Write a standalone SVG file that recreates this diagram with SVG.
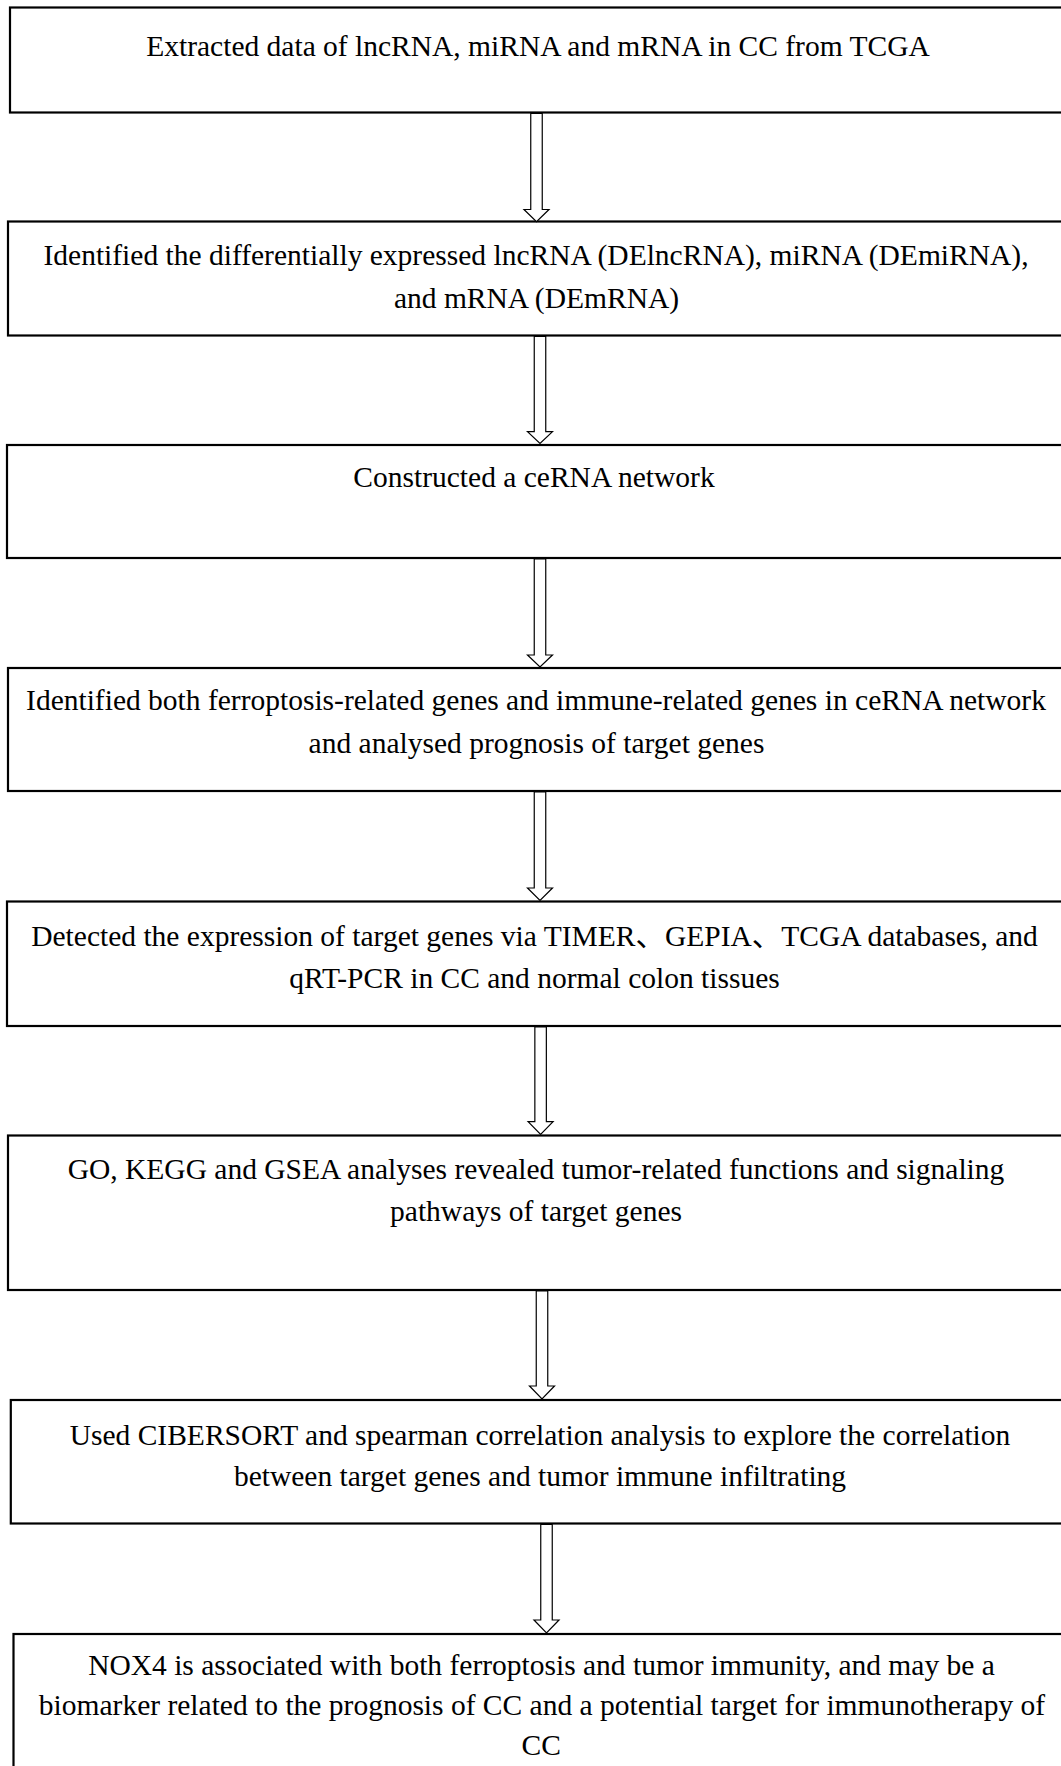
<svg xmlns="http://www.w3.org/2000/svg" width="1061" height="1766" viewBox="0 0 1061 1766">
<style>
.box{fill:#fff;stroke:#000;stroke-width:2.2}
.arr{fill:#fff;stroke:#000;stroke-width:1.2;stroke-linejoin:miter}
text{font-family:"Liberation Serif","Times New Roman","Noto Sans CJK SC",serif;font-size:29.5px;fill:#000;text-anchor:middle}
</style>
<rect width="1061" height="1766" fill="#fff"/>
<g id="node1"><rect class="box" x="10" y="7.5" width="1070" height="105"/><text x="538" y="56">Extracted data of lncRNA, miRNA and mRNA in CC from TCGA</text></g>
<g id="node2"><rect class="box" x="8" y="221.5" width="1070" height="114"/><text x="536" y="264.5">Identified the differentially expressed lncRNA (DElncRNA), miRNA (DEmiRNA),</text><text x="536.5" y="307.5">and mRNA (DEmRNA)</text></g>
<g id="node3"><rect class="box" x="7" y="445" width="1070" height="113"/><text x="534" y="487">Constructed a ceRNA network</text></g>
<g id="node4"><rect class="box" x="8" y="668" width="1070" height="123"/><text x="536" y="710">Identified both ferroptosis-related genes and immune-related genes in ceRNA network</text><text x="536.5" y="752.5">and analysed prognosis of target genes</text></g>
<g id="node5"><rect class="box" x="7" y="901.5" width="1070" height="124.5"/><text x="534.5" y="946">Detected the expression of target genes via TIMER、GEPIA、TCGA databases, and</text><text x="534.5" y="988">qRT-PCR in CC and normal colon tissues</text></g>
<g id="node6"><rect class="box" x="8" y="1135.5" width="1070" height="154.5"/><text x="536" y="1179">GO, KEGG and GSEA analyses revealed tumor-related functions and signaling</text><text x="536" y="1221">pathways of target genes</text></g>
<g id="node7"><rect class="box" x="10.8" y="1400" width="1070" height="123.5"/><text x="540" y="1445">Used CIBERSORT and spearman correlation analysis to explore the correlation</text><text x="540" y="1485.5">between target genes and tumor immune infiltrating</text></g>
<g id="node8"><rect class="box" x="13.5" y="1634" width="1070" height="160"/><text x="541.5" y="1675">NOX4 is associated with both ferroptosis and tumor immunity, and may be a</text><text x="542" y="1714.5">biomarker related to the prognosis of CC and a potential target for immunotherapy of</text><text x="541.3" y="1755">CC</text></g>
<g id="connectors">
<path class="arr" d="M530.75 113.5 L542.25 113.5 L542.25 209.5 L549 209.5 L536.5 221.7 L524 209.5 L530.75 209.5 Z"/>
<path class="arr" d="M534.25 336.5 L545.75 336.5 L545.75 431.7 L552.5 431.7 L540 443.5 L527.5 431.7 L534.25 431.7 Z"/>
<path class="arr" d="M534.25 559 L545.75 559 L545.75 655 L552.5 655 L540 667 L527.5 655 L534.25 655 Z"/>
<path class="arr" d="M534.25 792 L545.75 792 L545.75 888 L552.5 888 L540 900.5 L527.5 888 L534.25 888 Z"/>
<path class="arr" d="M534.85 1027 L546.35 1027 L546.35 1121.7 L553.1 1121.7 L540.6 1134.5 L528.1 1121.7 L534.85 1121.7 Z"/>
<path class="arr" d="M536.25 1291 L547.75 1291 L547.75 1386 L554.5 1386 L542 1398.8 L529.5 1386 L536.25 1386 Z"/>
<path class="arr" d="M540.75 1524.5 L552.25 1524.5 L552.25 1620 L559 1620 L546.5 1632.8 L534 1620 L540.75 1620 Z"/>
</g>
</svg>
